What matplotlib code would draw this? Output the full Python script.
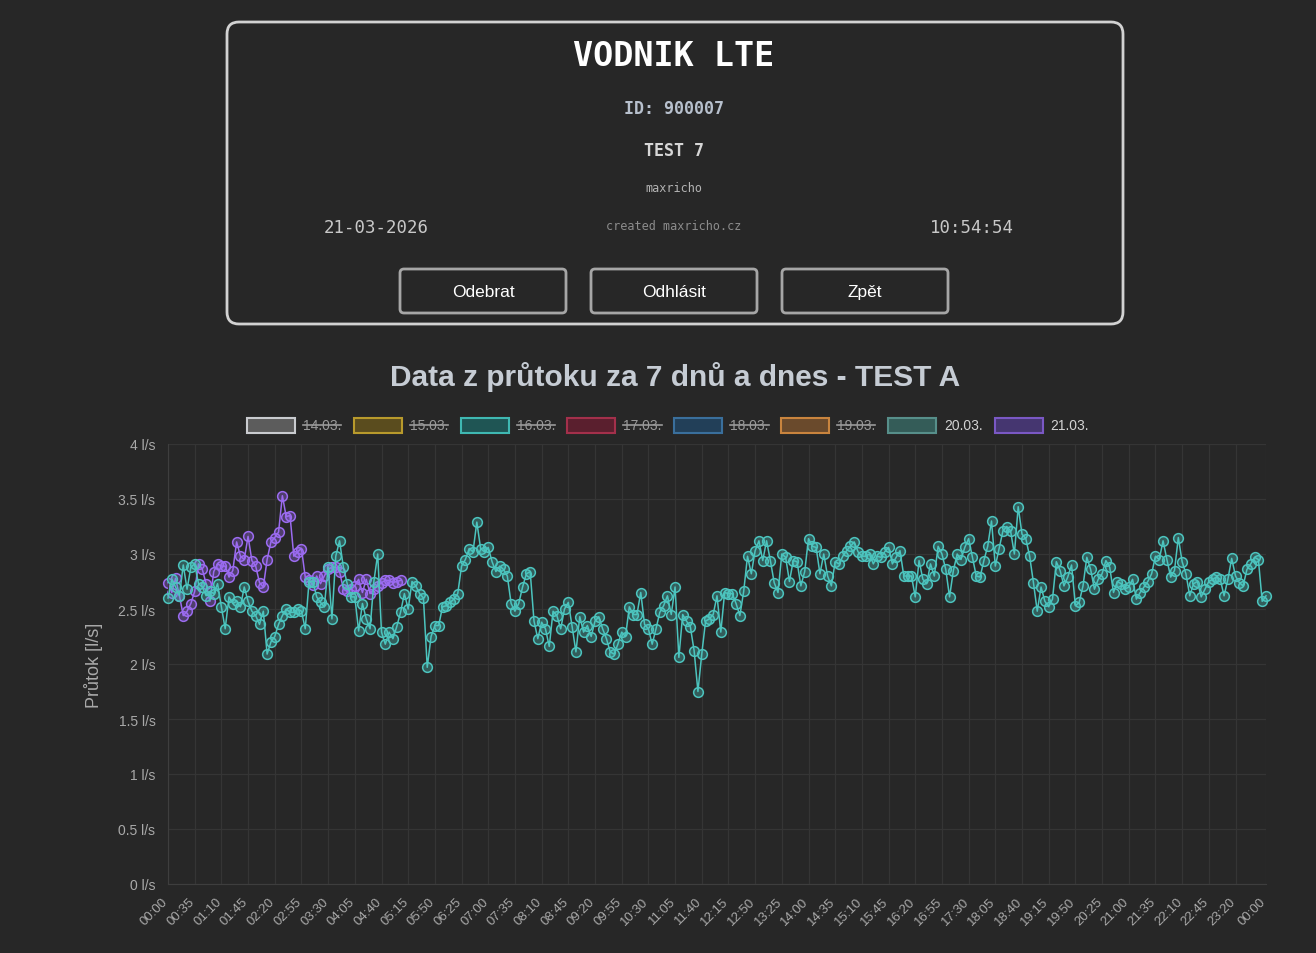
import numpy as np
import matplotlib
matplotlib.use("Agg")
import matplotlib.pyplot as plt
from matplotlib.patches import FancyBboxPatch, Rectangle
from matplotlib.transforms import ScaledTranslation

W, H = 1316, 954
BG = "#272727"

# x axis labels (one point every 5 minutes, label every 35 minutes)
tick_labels = ["00:00", "00:35", "01:10", "01:45", "02:20", "02:55", "03:30",
               "04:05", "04:40", "05:15", "05:50", "06:25", "07:00", "07:35",
               "08:10", "08:45", "09:20", "09:55", "10:30", "11:05", "11:40",
               "12:15", "12:50", "13:25", "14:00", "14:35", "15:10", "15:45",
               "16:20", "16:55", "17:30", "18:05", "18:40", "19:15", "19:50",
               "20:25", "21:00", "21:35", "22:10", "22:45", "23:20", "00:00"]
tick_index = [i * 7 for i in range(41)] + [288]

y_ticks = [0, 0.5, 1, 1.5, 2, 2.5, 3, 3.5, 4]

legend_days = ["14.03.", "15.03.", "16.03.", "17.03.", "18.03.", "19.03.", "20.03.", "21.03."]
legend_hidden = [True, True, True, True, True, True, False, False]
legend_edge = ["#c9cbcf", "#b89a2c", "#3fb8b2", "#a3304b", "#3a6f9c", "#c9843e", "#578f8a", "#7a58c4"]
legend_fill = ["#5c5c5c", "#5a4c1e", "#1f5554", "#5a1f2e", "#223f58", "#6a4a2c", "#345c58", "#453670"]

# flow 20.03. [l/s], 00:00 .. 24:00, step 5 min
flow_2003 = [
    2.60, 2.77, 2.70, 2.62, 2.90, 2.68, 2.88, 2.91, 2.73, 2.70, 2.62,
    2.66, 2.64, 2.73, 2.52, 2.32, 2.61, 2.55, 2.57, 2.52, 2.70,
    2.57, 2.48, 2.44, 2.36, 2.48, 2.09, 2.20, 2.25, 2.36, 2.44,
    2.50, 2.47, 2.47, 2.50, 2.48, 2.32, 2.75, 2.75, 2.61, 2.56, 2.52,
    2.88, 2.41, 2.98, 3.12, 2.88, 2.73, 2.61, 2.61, 2.30, 2.55,
    2.41, 2.32, 2.75, 3.00, 2.29,
    2.18, 2.29, 2.23, 2.34, 2.47, 2.64, 2.50, 2.75, 2.71, 2.64, 2.60,
    1.97, 2.25, 2.35, 2.35, 2.52, 2.53, 2.56, 2.59, 2.64, 2.89,
    2.95, 3.05, 3.02, 3.29, 3.05, 3.02, 3.06, 2.93, 2.84, 2.89,
    2.86, 2.80, 2.55, 2.48, 2.55, 2.70, 2.82, 2.84, 2.39, 2.23, 2.38,
    2.32, 2.16, 2.48, 2.44, 2.32, 2.50, 2.56, 2.34, 2.11, 2.43,
    2.29, 2.35, 2.25, 2.39, 2.43, 2.32,
    2.23, 2.11, 2.09, 2.18, 2.29, 2.25, 2.52, 2.45, 2.45, 2.65,
    2.36, 2.32, 2.18, 2.32, 2.47, 2.53, 2.62, 2.45, 2.70, 2.06,
    2.45, 2.39, 2.34, 2.12, 1.75, 2.09, 2.39, 2.41, 2.45, 2.62,
    2.29, 2.65, 2.64, 2.64, 2.55, 2.44, 2.66, 2.98, 2.82, 3.03,
    3.12, 2.94, 3.12, 2.94, 2.74, 2.65, 3.00, 2.97, 2.75, 2.94,
    2.93, 2.71, 2.84, 3.14, 3.07, 3.06, 2.82, 3.00,
    2.80, 2.71, 2.93, 2.91, 2.98, 3.03, 3.07, 3.11, 3.02,
    2.98, 2.98, 3.00, 2.91, 2.98, 2.97, 3.02, 3.06, 2.91, 2.97,
    3.03, 2.80, 2.80, 2.80, 2.61, 2.94, 2.77, 2.73, 2.91, 2.80,
    3.07, 3.00, 2.86, 2.61, 2.85, 3.00, 2.95, 3.06, 3.14, 2.97,
    2.80, 2.79, 2.94, 3.07, 3.30, 2.89, 3.05, 3.21, 3.25, 3.21,
    3.00, 3.43, 3.18, 3.14, 2.98, 2.74, 2.48, 2.70, 2.57,
    2.52, 2.59, 2.93, 2.85, 2.71, 2.79, 2.90, 2.53, 2.56, 2.71,
    2.97, 2.86, 2.68, 2.77, 2.82, 2.94, 2.88, 2.65, 2.75, 2.73, 2.68,
    2.70, 2.77, 2.59, 2.65, 2.70, 2.75, 2.82, 2.98, 2.95, 3.12,
    2.95, 2.79, 2.85, 3.15, 2.93, 2.82, 2.62, 2.73, 2.75, 2.61,
    2.68, 2.75, 2.77, 2.79, 2.77, 2.62, 2.77, 2.96, 2.80, 2.74,
    2.71, 2.86, 2.91, 2.97, 2.95, 2.57, 2.62,
]

# flow 21.03. [l/s], from 00:00
flow_2103 = [
    2.74, 2.65, 2.78, 2.62, 2.44, 2.48, 2.55, 2.66, 2.91, 2.86,
    2.73, 2.57, 2.84, 2.91, 2.89, 2.89, 2.79, 2.85, 3.11, 2.98,
    2.95, 3.16, 2.94, 2.89, 2.74, 2.70, 2.95, 3.11, 3.15, 3.20,
    3.53, 3.34, 3.35, 2.98, 3.02, 3.05, 2.79, 2.76, 2.72, 2.80,
    2.73, 2.80, 2.86, 2.88, 2.88, 2.84, 2.68, 2.66, 2.68, 2.71,
    2.77, 2.65, 2.77, 2.64, 2.68, 2.71, 2.74, 2.76, 2.76, 2.74,
    2.75, 2.76,
]

TEAL = "#4cc4be"
PURPLE = "#9b6bf0"


def rgba(hex_color, alpha):
    c = matplotlib.colors.to_rgb(hex_color)
    return (c[0], c[1], c[2], alpha)


fig = plt.figure(figsize=(W / 100, H / 100), dpi=100, facecolor=BG)

# overlay in pixel coordinates for the page header
bg = fig.add_axes([0, 0, 1, 1], zorder=0)
bg.set_xlim(0, W)
bg.set_ylim(H, 0)
bg.axis("off")

mono = "DejaVu Sans Mono"
sans = "Liberation Sans"

bg.add_patch(FancyBboxPatch((227, 23), 896, 302, boxstyle="round,pad=0,rounding_size=12",
                            fc=BG, ec="#d2d2d2", lw=2))
bg.text(674, 57, "VODNIK LTE", family=mono, weight="bold", size=24, color="white",
        ha="center", va="center")
bg.text(674, 109, "ID: 900007", family=mono, weight="bold", size=12, color="#b7c0cd",
        ha="center", va="center")
bg.text(674, 151, "TEST 7", family=mono, weight="bold", size=12, color="#d6d6d6",
        ha="center", va="center")
bg.text(674, 188, "maxricho", family=mono, size=8.5, color="#b4b4b4",
        ha="center", va="center")
bg.text(376, 228, "21-03-2026", family=mono, size=12.5, color="#c8c8c8",
        ha="center", va="center")
bg.text(674, 227, "created maxricho.cz", family=mono, size=8.5, color="#8c8c8c",
        ha="center", va="center")
bg.text(972, 228, "10:54:54", family=mono, size=12.5, color="#c8c8c8",
        ha="center", va="center")

buttons = [("Odebrat", 400), ("Odhlásit", 591), ("Zpět", 782)]
for label, bx in buttons:
    bg.add_patch(FancyBboxPatch((bx, 270), 166, 44, boxstyle="round,pad=0,rounding_size=4",
                                fc=BG, ec="#a6a6a6", lw=2))
    bg.text(bx + 83, 293, label, family=sans, size=12.5, color="white",
            ha="center", va="center")

bg.text(675, 377, "Data z průtoku za 7 dnů a dnes - TEST A", family=sans, weight="bold",
        size=21.5, color="#c6ccd4", ha="center", va="center")

# legend with struck-through hidden days
legend_texts = []
for i, day in enumerate(legend_days):
    lx = 247 + i * 106.8
    bg.add_patch(Rectangle((lx, 419), 48, 15, fc=legend_fill[i], ec=legend_edge[i], lw=1.5))
    t = bg.text(lx + 56, 426, day, family=sans, size=10,
                color="#9a9a9a" if legend_hidden[i] else "#d2d2d2", ha="left", va="center")
    legend_texts.append(t)

fig.canvas.draw()
renderer = fig.canvas.get_renderer()
inv = bg.transData.inverted()
for t, hidden in zip(legend_texts, legend_hidden):
    if not hidden:
        continue
    ext = t.get_window_extent(renderer)
    (x0, _), (x1, _) = inv.transform([[ext.x0, ext.y0], [ext.x1, ext.y1]])
    bg.plot([x0, x1], [426, 426], color="#9a9a9a", lw=1.2)

# main chart
ax = fig.add_axes([168 / W, 69 / H, 1098 / W, 440 / H], zorder=1)
ax.set_facecolor("none")

x_purple = np.arange(len(flow_2103))
x_teal = np.arange(len(flow_2003))
ax.plot(x_purple, flow_2103, color=PURPLE, lw=1.1, marker="o", ms=7,
        mfc=rgba(PURPLE, 0.35), mec=PURPLE, mew=1.1, clip_on=False, zorder=2)
ax.plot(x_teal, flow_2003, color=TEAL, lw=1.1, marker="o", ms=7,
        mfc=rgba(TEAL, 0.35), mec=TEAL, mew=1.1, clip_on=False, zorder=3)

ax.set_xlim(0, 288)
ax.set_ylim(0, 4)
ax.set_yticks(y_ticks)
ax.set_yticklabels([f"{v:g} l/s" for v in y_ticks])
ax.set_xticks(tick_index)
ax.set_xticklabels([])

# rotated time labels, placed by hand so they sit left of the grid line
lab_tr = ax.get_xaxis_transform() + ScaledTranslation(-6 / 100, -11 / 100, fig.dpi_scale_trans)
for pos, lab in zip(tick_index, tick_labels):
    ax.text(pos, 0, lab, transform=lab_tr, rotation=45, rotation_mode="anchor",
            ha="right", va="top", family=sans, size=9.5, color="#a9a9a9", clip_on=False)

ax.tick_params(axis="y", length=0, pad=9, labelsize=10, labelcolor="#a9a9a9")
ax.tick_params(axis="x", length=0)
for lab in ax.get_yticklabels():
    lab.set_family(sans)

ax.grid(True, color="#353535", lw=0.9)
ax.set_axisbelow(True)
for side in ["top", "right"]:
    ax.spines[side].set_visible(False)
for side in ["left", "bottom"]:
    ax.spines[side].set_color("#3e3e3e")

ax.set_ylabel("Průtok [l/s]", family=sans, size=13, color="#a9a9a9", labelpad=11)

fig.savefig("out.png", dpi=100, facecolor=BG)
